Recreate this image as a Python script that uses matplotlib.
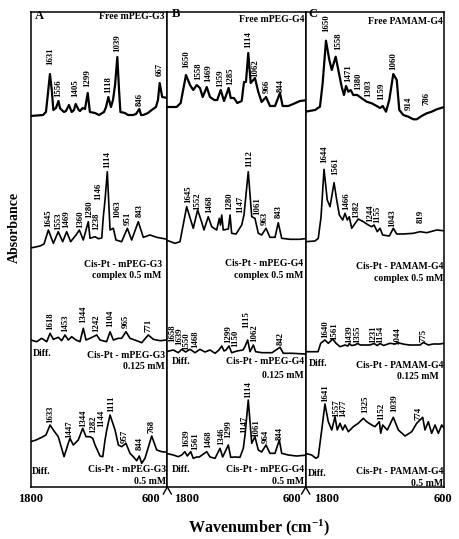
import numpy as np
import matplotlib
matplotlib.use('Agg')
import matplotlib.pyplot as plt

matplotlib.rcParams['font.family'] = 'Liberation Serif'
matplotlib.rcParams['font.weight'] = 'bold'
matplotlib.rcParams['mathtext.fontset'] = 'custom'
matplotlib.rcParams['mathtext.bf'] = 'Liberation Serif:bold'
matplotlib.rcParams['mathtext.rm'] = 'Liberation Serif:bold'
matplotlib.rcParams['mathtext.default'] = 'bf'

#%% spectra (wavenumber, absorbance in arbitrary stacked units)

# A: mPEG-G3
a1_wn = [1800, 1692, 1666, 1650, 1631, 1615, 1601, 1578, 1556, 1543, 1528, 1507, 1490, 1464, 1440, 1420,
         1405, 1378, 1367, 1343, 1323, 1299, 1280, 1235, 1200, 1156, 1138, 1118, 1095, 1077, 1059, 1039,
         1024, 1012, 972, 945, 899, 875, 846, 830, 811, 770, 737, 700, 682, 667, 645, 600]
a1_ab = [371, 372, 375, 392, 413, 397, 377, 379, 386, 379, 377, 375, 376, 382, 375, 377,
         383, 377, 376, 379, 378, 394, 375, 374, 372, 375, 380, 390, 380, 387, 402, 430,
         397, 375, 374, 372, 372, 373, 378, 372, 372, 374, 377, 380, 387, 404, 390, 389]
a1_pk = [1631, 1556, 1405, 1299, 1118, 1039, 846, 667]
a1_pk_x = [1631, 1556, 1405, 1299, 1118, 1039, 846, 667]
a1_pk_y = [422, 390, 390, 400, 394, 435, 381, 411]

a2_wn = [1800, 1718, 1683, 1645, 1601, 1558, 1519, 1484, 1449, 1402, 1373, 1338, 1294, 1279, 1235, 1206,
         1176, 1162, 1147, 1127, 1103, 1074, 1051, 1001, 951, 913, 855, 811, 752, 693, 600]
a2_ab = [239, 241, 243, 257, 243.7, 255.3, 245.3, 255.3, 245.3, 252, 257, 247, 265.3, 248.7, 250.3, 248.3,
         249, 270.3, 287, 315.3, 257, 258.7, 247, 245.3, 258.7, 247, 265.3, 249.7, 252, 249.7, 247.7]
a2_pk = [1645, 1553, 1469, 1360, 1280, 1238, 1146, 1114, 1063, 951, 843]
a2_pk_x = [1645, 1558, 1484, 1367, 1285, 1226, 1206, 1127, 1044, 951, 840]
a2_pk_y = [260, 257, 258.7, 258.7, 268.7, 257, 287, 318.7, 268.7, 262, 270.3]

a3_wn = [1800, 1747, 1703, 1659, 1630, 1601, 1557, 1528, 1499, 1470, 1440, 1402, 1367, 1338, 1314, 1279,
         1220, 1191, 1133, 1103, 1074, 1030, 1001, 963, 928, 869, 825, 767, 723, 664, 600]
a3_ab = [147, 145.3, 148.7, 145.3, 153.7, 147.7, 149.7, 146.3, 152, 147, 150.3, 147, 145.3, 158.7, 147, 148.7,
         152, 147, 145.3, 155.3, 147, 148.7, 148.7, 155.3, 148.7, 146.3, 144.3, 152, 147.7, 146.3, 147]
a3_pk = [1618, 1453, 1344, 1242, 1104, 965, 771]
a3_pk_x = [1630, 1499, 1338, 1220, 1103, 963, 767]
a3_pk_y = [157, 155.3, 163.7, 155.3, 160.3, 158.7, 155.3]

a4_wn = [1800, 1753, 1703, 1666, 1630, 1601, 1558, 1507, 1470, 1455, 1426, 1382, 1343, 1314, 1279, 1255,
         1235, 1191, 1167, 1147, 1132, 1103, 1059, 1030, 1001, 963, 928, 899, 869, 846, 825, 796,
         737, 693, 649, 600]
a4_ab = [45.3, 47, 49.7, 52, 62, 57, 50.3, 30.3, 43.7, 48.7, 42, 47, 58.7, 50.3, 50.3, 48.7,
         42, 31, 30.3, 47, 57, 72, 57, 42, 40.3, 43.7, 33.7, 30.3, 26.3, 31, 23.7, 28.7,
         51, 37, 35.3, 34.7]
a4_pk = [1633, 1447, 1344, 1282, 1144, 1111, 957, 844, 768]
a4_pk_x = [1630, 1461, 1338, 1250, 1176, 1095, 972, 846, 737]
a4_pk_y = [63.7, 48.7, 60.3, 53.7, 60.3, 75.3, 43.7, 37, 53.7]

# B: mPEG-G4
b1_wn = [1830, 1738, 1703, 1657, 1622, 1594, 1564, 1536, 1512, 1477, 1449, 1412, 1386, 1356, 1327, 1287,
         1269, 1241, 1212, 1174, 1154, 1137, 1117, 1096, 1059, 1030, 1001, 963, 929, 885, 842, 819,
         770, 727, 669, 600]
b1_ab = [380, 380, 384, 412, 402, 397, 402, 399, 390, 400, 390, 387, 387, 397, 386, 399,
         389, 389, 384, 386, 405, 405, 434, 404, 409, 395, 385, 390, 381, 381, 394, 381,
         381, 383, 386, 387]
b1_pk = [1650, 1558, 1469, 1359, 1285, 1114, 1062, 966, 844]
b1_pk_x = [1651, 1550, 1464, 1362, 1275, 1117, 1059, 957, 836]
b1_pk_y = [418.7, 407, 405.3, 400.3, 402, 438.7, 410.3, 393.7, 395.3]

b2_wn = [1830, 1752, 1709, 1651, 1616, 1594, 1556, 1521, 1501, 1464, 1434, 1391, 1368, 1358, 1347, 1334,
         1290, 1275, 1261, 1223, 1174, 1154, 1117, 1087, 1059, 1030, 1001, 963, 929, 885, 857, 827,
         755, 669, 600]
b2_ab = [247, 243.7, 245.3, 280.3, 267, 258.7, 277, 265, 257, 270.3, 260.3, 257, 268.7, 262, 272, 257,
         258, 272, 253.7, 253, 262, 272, 315.3, 270.3, 268.7, 253.7, 252, 258.7, 249.7, 249.7, 264.3, 248.7,
         247.7, 247.7, 248.7]
b2_pk = [1645, 1552, 1468, 1280, 1147, 1112, 1061, 963, 843]
b2_pk_x = [1637, 1559, 1455, 1282, 1189, 1108, 1039, 972, 851]
b2_pk_y = [283.7, 277, 273.7, 277, 273.7, 320.3, 272, 262, 268.7]

b3_wn = [1830, 1767, 1724, 1694, 1660, 1622, 1579, 1536, 1492, 1449, 1405, 1371, 1347, 1327, 1310, 1284,
         1261, 1215, 1163, 1146, 1122, 1102, 1073, 1053, 998, 911, 842, 813, 738, 625, 600]
b3_ab = [135.3, 137, 134.3, 137.7, 135, 137.7, 134.3, 137.7, 135, 137, 133.7, 137, 141, 136, 137, 141,
         134.3, 136, 137, 140.3, 147, 135.3, 142, 135.3, 134.3, 134.3, 139.7, 133.7, 133.7, 133, 133]
b3_pk = [1658, 1639, 1550, 1468, 1299, 1150, 1115, 1062, 842]
b3_pk_x = [1778, 1712, 1655, 1573, 1290, 1232, 1131, 1065, 836]
b3_pk_y = [145.3, 142, 137, 138.7, 143.7, 140.3, 158.7, 145.3, 142]

b4_wn = [1830, 1767, 1724, 1694, 1666, 1646, 1616, 1594, 1564, 1542, 1477, 1449, 1405, 1362, 1339, 1290,
         1269, 1232, 1189, 1160, 1145, 1117, 1087, 1059, 1030, 1001, 963, 929, 885, 848, 827, 770,
         697, 600]
b4_ab = [33.7, 32, 30.3, 32, 35.3, 31, 35.3, 28.7, 30, 30, 35.3, 30, 28.7, 38.7, 30, 42,
         29.7, 30, 29.7, 38.7, 52, 87, 43.7, 50.3, 37, 35, 42, 33.7, 33.7, 47, 33.7, 32,
         31, 32]
b4_pk = [1639, 1561, 1468, 1346, 1299, 1147, 1114, 1061, 964, 844]
b4_pk_x = [1654, 1574, 1464, 1352, 1290, 1155, 1117, 1050, 963, 848]
b4_pk_y = [40.3, 37, 38.7, 42, 48.7, 53.7, 88.7, 50.3, 43.7, 47]

# C: PAMAM-G4
c1_wn = [1830, 1745, 1702, 1679, 1650, 1621, 1600, 1566, 1543, 1514, 1494, 1476, 1456, 1436, 1413, 1378,
         1340, 1297, 1253, 1210, 1181, 1158, 1129, 1101, 1066, 1036, 1014, 979, 936, 892, 863, 820,
         776, 733, 689, 632, 600]
c1_ab = [375.3, 377, 380.3, 403.7, 446.3, 427, 417, 430.3, 417, 400.3, 392, 401, 395.3, 397, 392, 392,
         388.7, 385.3, 383.7, 381, 379, 381, 375.3, 387, 413, 407, 377, 372, 370.3, 367.7, 367.7, 371,
         373.7, 375.3, 377.7, 379.7, 381]
c1_pk = [1650, 1558, 1471, 1380, 1303, 1159, 1060, 914, 786]
c1_pk_x = [1650, 1543, 1456, 1370, 1283, 1167, 1066, 936, 782]
c1_pk_y = [455, 437, 405, 397, 390, 387, 417, 377, 382]

c2_wn = [1830, 1745, 1717, 1693, 1667, 1639, 1615, 1580, 1557, 1534, 1505, 1485, 1465, 1448, 1427, 1370,
         1326, 1283, 1253, 1233, 1205, 1181, 1158, 1100, 1066, 1036, 979, 892, 834, 776, 689, 632, 600]
c2_ab = [245.3, 246, 248.7, 270, 317.7, 287, 280.3, 304.3, 287, 272, 267, 273.7, 267, 270.3, 258.7, 268,
         265.3, 262, 260.3, 262, 255.3, 258.7, 252, 251, 258.7, 253, 253, 253.7, 255.3, 254.3, 257, 256.3, 256]
c2_pk = [1644, 1561, 1466, 1382, 1244, 1155, 1043, 819]
c2_pk_x = [1667, 1572, 1470, 1390, 1268, 1205, 1071, 828]
c2_pk_y = [324, 312, 277, 268.7, 265.3, 263.7, 260.3, 263.7]

c3_wn = [1830, 1719, 1696, 1659, 1630, 1592, 1563, 1528, 1485, 1460, 1448, 1430, 1398, 1378, 1350, 1300,
         1268, 1233, 1205, 1181, 1150, 1095, 1050, 1028, 1008, 960, 921, 870, 834, 806, 791, 762,
         719, 661, 626, 600]
c3_ab = [135.3, 135.3, 143.7, 147, 143.7, 148, 143.7, 140.3, 142, 141, 143.5, 141.5, 142, 143.5, 142, 142,
         142, 143.5, 141.5, 143.5, 141.5, 143.7, 143, 144.5, 143.7, 142.5, 142, 142, 142, 144.5, 143.7, 142,
         143, 143, 143.7, 143.7]
c3_pk = [1640, 1561, 1439, 1355, 1231, 1154, 1044, 775]
c3_pk_x = [1659, 1580, 1448, 1378, 1242, 1176, 1028, 806]
c3_pk_y = [148.7, 147, 143.7, 143.7, 143.7, 143.7, 142, 145]

c4_wn = [1830, 1774, 1737, 1717, 1687, 1659, 1630, 1600, 1572, 1552, 1528, 1505, 1485, 1456, 1413, 1370,
         1326, 1297, 1253, 1225, 1187, 1175, 1158, 1118, 1066, 1022, 964, 906, 863, 811, 791, 762,
         733, 704, 675, 646, 626, 600]
c4_ab = [33.7, 32, 28.7, 30.3, 57, 83, 65.3, 57, 70.3, 57, 63.7, 57, 62, 55.3, 60.3, 63.7,
         68.7, 65.3, 62, 60.3, 65.3, 53.7, 62, 57, 69.7, 57, 51, 55.3, 63.7, 69.7, 57, 65.3,
         53.7, 62, 53.7, 62, 58.7, 58]
c4_pk = [1641, 1557, 1477, 1325, 1152, 1039, 774]
c4_pk_x = [1659, 1562, 1500, 1311, 1167, 1057, 849]
c4_pk_y = [85.3, 70.3, 70.3, 73.7, 67, 75.3, 67]

#%% figure

W, H = 459.0, 539.0
fig = plt.figure(figsize=(W / 100, H / 100), dpi=100)

# panel frames in pixels (left, width); the original frames are slightly offset
frames = [(30.7, 136.6), (167.3, 138.4), (305.7, 138.3)]
xlims = [(1800, 600), (1819, 619), (1826, 626)]

axes = []
for (x0, w), xl in zip(frames, xlims):
    ax = fig.add_axes([x0 / W, 52 / H, w / W, 475 / H])
    ax.set_xlim(*xl)
    ax.set_ylim(0, 475)
    ax.set_xticks([])
    ax.set_yticks([])
    for s in ax.spines.values():
        s.set_linewidth(1.1)
    axes.append(ax)


def spectrum(ax, wn, ab, pk, pk_x, pk_y, lw=1.2):
    ax.plot(wn, ab, color='black', linewidth=lw)
    for t, x, y in zip(pk, pk_x, pk_y):
        ax.text(x, y, str(t), rotation=90, ha='center', va='bottom', fontsize=6.3)


axA, axB, axC = axes
spectrum(axA, a1_wn, a1_ab, a1_pk, a1_pk_x, a1_pk_y, lw=1.6)
spectrum(axA, a2_wn, a2_ab, a2_pk, a2_pk_x, a2_pk_y)
spectrum(axA, a3_wn, a3_ab, a3_pk, a3_pk_x, a3_pk_y)
spectrum(axA, a4_wn, a4_ab, a4_pk, a4_pk_x, a4_pk_y)
spectrum(axB, b1_wn, b1_ab, b1_pk, b1_pk_x, b1_pk_y, lw=1.6)
spectrum(axB, b2_wn, b2_ab, b2_pk, b2_pk_x, b2_pk_y)
spectrum(axB, b3_wn, b3_ab, b3_pk, b3_pk_x, b3_pk_y)
spectrum(axB, b4_wn, b4_ab, b4_pk, b4_pk_x, b4_pk_y)
spectrum(axC, c1_wn, c1_ab, c1_pk, c1_pk_x, c1_pk_y, lw=1.6)
spectrum(axC, c2_wn, c2_ab, c2_pk, c2_pk_x, c2_pk_y)
spectrum(axC, c3_wn, c3_ab, c3_pk, c3_pk_x, c3_pk_y)
spectrum(axC, c4_wn, c4_ab, c4_pk, c4_pk_x, c4_pk_y)


def note(ax, fx, y, s, ha='right', size=7):
    ax.text(fx, y, s, transform=ax.get_yaxis_transform(), ha=ha, va='center',
            fontsize=size, clip_on=False)


# panel letters and titles
note(axA, 0.031, 471, 'A', ha='left', size=9)
note(axB, 0.032, 473, 'B', ha='left', size=9)
note(axC, 0.017, 473, 'C', ha='left', size=9)
note(axA, 0.983, 470.5, 'Free mPEG-G3')
note(axB, 0.992, 468, 'Free mPEG-G4')
note(axC, 0.992, 465, 'Free PAMAM-G4')

# complex 0.5 mM
note(axA, 0.959, 222.7, 'Cis-Pt - mPEG-G3')
note(axA, 0.959, 212, 'complex 0.5 mM')
note(axB, 0.983, 223.7, 'Cis-Pt - mPEG-G4')
note(axB, 0.983, 212, 'complex 0.5 mM')
note(axC, 0.992, 220.3, 'Cis-Pt - PAMAM-G4')
note(axC, 0.992, 208.7, 'complex 0.5 mM')

# difference spectra 0.125 mM
note(axA, 0.017, 133.7, 'Diff.', ha='left')
note(axA, 0.983, 131, 'Cis-Pt - mPEG-G3')
note(axA, 0.983, 120.3, '0.125 mM')
note(axB, 0.032, 125.3, 'Diff.', ha='left')
note(axB, 0.988, 125, 'Cis-Pt - mPEG-G4')
note(axB, 0.988, 111, '0.125 mM')
note(axC, 0.019, 123.7, 'Diff.', ha='left')
note(axC, 0.992, 122, 'Cis-Pt - PAMAM-G4')
note(axC, 0.959, 110.3, '0.125 mM')

# difference spectra 0.5 mM
note(axA, 0.01, 15.3, 'Diff.', ha='left')
note(axA, 0.99, 17.7, 'Cis-Pt - mPEG-G3')
note(axA, 0.99, 6, '0.5 mM')
note(axB, 0.032, 17, 'Diff.', ha='left')
note(axB, 0.988, 17, 'Cis-Pt - mPEG-G4')
note(axB, 0.988, 6, '0.5 mM')
note(axC, 0.017, 13.7, 'Diff.', ha='left')
note(axC, 0.992, 15.3, 'Cis-Pt - PAMAM-G4')
note(axC, 0.992, 3.7, '0.5 mM')

# end labels under each panel
tick_pos = [(0.0, 0.879), (0.140, 0.899), (0.152, 0.989)]
for ax, (f1800, f600) in zip(axes, tick_pos):
    note(ax, f1800, -12, '1800', ha='center', size=9)
    note(ax, f600, -12, '600', ha='center', size=9)

# small corner marks where panels meet
for ax, side in [(axA, 'r'), (axB, 'l'), (axB, 'r'), (axC, 'l')]:
    if side == 'r':
        ax.plot([1, 0.971], [0, -0.0147], transform=ax.transAxes, color='black', lw=1, clip_on=False)
    else:
        ax.plot([0, 0.029], [0, -0.0147], transform=ax.transAxes, color='black', lw=1, clip_on=False)

fig.text(14 / W, 1 - 227.5 / H, 'Absorbance', rotation=90, ha='center', va='center', fontsize=10)
fig.text(259 / W, 1 - 528 / H, 'Wavenumber (cm$^{-1}$)', ha='center', va='center', fontsize=11.5)

fig.savefig('out.png', dpi=100)
